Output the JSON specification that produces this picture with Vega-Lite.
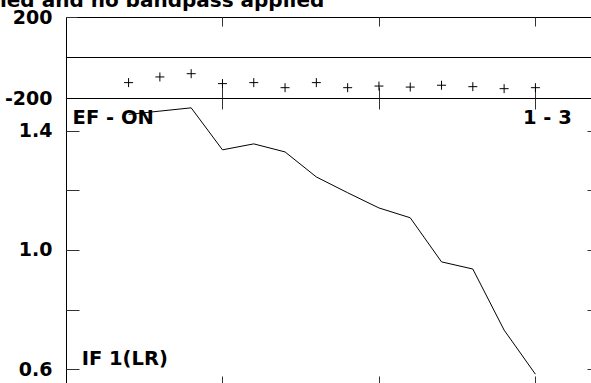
{
  "$schema": "https://vega.github.io/schema/vega-lite/v6.json",
  "background": "white",
  "padding": {"left": -1, "top": -10, "right": 0, "bottom": 0},
  "title": {"text": "ied and no bandpass applied", "anchor": "start", "frame": "bounds", "font": "DejaVu Sans", "fontSize": 20, "fontWeight": "bold", "color": "black", "offset": -3, "dx": -4},
  "datasets": {
    "phase": [
      {"x": 2, "phase": -124}, {"x": 3, "phase": -96}, {"x": 4, "phase": -80}, {"x": 5, "phase": -129},
      {"x": 6, "phase": -124}, {"x": 7, "phase": -149}, {"x": 8, "phase": -124}, {"x": 9, "phase": -149},
      {"x": 10, "phase": -141}, {"x": 11, "phase": -146}, {"x": 12, "phase": -137}, {"x": 13, "phase": -144},
      {"x": 14, "phase": -154}, {"x": 15, "phase": -149}
    ],
    "amp": [
      {"x": 2, "amp": 1.455}, {"x": 3, "amp": 1.466}, {"x": 4, "amp": 1.477}, {"x": 5, "amp": 1.336},
      {"x": 6, "amp": 1.356}, {"x": 7, "amp": 1.329}, {"x": 8, "amp": 1.245}, {"x": 9, "amp": 1.192},
      {"x": 10, "amp": 1.141}, {"x": 11, "amp": 1.108}, {"x": 12, "amp": 0.96}, {"x": 13, "amp": 0.936},
      {"x": 14, "amp": 0.731}, {"x": 15, "amp": 0.583}
    ],
    "labels": [
      {"x": 0.21, "y": 1.423, "text": "EF - ON"},
      {"x": 14.6, "y": 1.423, "text": "1 - 3"},
      {"x": 0.5, "y": 0.615, "text": "IF 1(LR)"}
    ]
  },
  "vconcat": [
    {
      "width": 532,
      "height": 81,
      "resolve": {"axis": {"x": "independent"}},
      "layer": [
        {
          "data": {"name": "phase"},
          "mark": {"type": "point", "shape": "M-1,0L1,0M0,-1L0,1", "filled": false, "stroke": "black", "strokeWidth": 1, "size": 81, "opacity": 1},
          "encoding": {
            "x": {"field": "x", "type": "quantitative", "scale": {"domain": [0, 17], "nice": false, "zero": false},
                  "axis": {"orient": "top", "title": null, "labels": false, "values": [5, 10, 15], "tickSize": -9, "domain": false, "grid": false}},
            "y": {"field": "phase", "type": "quantitative", "scale": {"domain": [-200, 200], "nice": false},
                  "axis": {"orient": "left", "title": null, "values": [-200, 200], "tickSize": -11, "domain": false, "grid": false, "labelPadding": 25,
                           "labelExpr": "datum.value < 0 ? '-' + abs(datum.value) : '' + datum.value"}}
          }
        },
        {
          "data": {"values": [{}]},
          "mark": {"type": "rule", "color": "black", "strokeWidth": 1},
          "encoding": {
            "x": {"datum": 0, "type": "quantitative", "axis": {"orient": "bottom", "title": null, "labels": false, "values": [5, 10, 15], "tickSize": -11, "domain": false, "grid": false}},
            "x2": {"datum": 17},
            "y": {"datum": 0, "type": "quantitative"}
          }
        }
      ]
    },
    {
      "width": 532,
      "height": 289,
      "resolve": {"axis": {"x": "independent", "y": "independent"}},
      "layer": [
        {
          "data": {"name": "amp"},
          "mark": {"type": "line", "color": "black", "strokeWidth": 1},
          "encoding": {
            "x": {"field": "x", "type": "quantitative", "scale": {"domain": [0, 17], "nice": false, "zero": false},
                  "axis": {"orient": "bottom", "title": null, "labels": false, "values": [5, 10, 15], "tickSize": -11, "domain": false, "grid": false}},
            "y": {"field": "amp", "type": "quantitative", "scale": {"domain": [0.54, 1.51], "nice": false, "zero": false},
                  "axis": {"orient": "left", "title": null, "values": [0.6, 0.8, 1.0, 1.2, 1.4], "format": ".1f",
                           "labelExpr": "indexof(['0.6','1.0','1.4'], datum.label) >= 0 ? datum.label : ''",
                           "tickSize": -13, "domain": false, "grid": false, "labelPadding": 27}}
          }
        },
        {
          "data": {"name": "labels"},
          "mark": {"type": "text", "align": "left", "baseline": "alphabetic", "font": "DejaVu Sans", "fontSize": 19.5, "fontWeight": "bold", "color": "black"},
          "encoding": {
            "x": {"field": "x", "type": "quantitative", "axis": {"orient": "top", "title": null, "labels": false, "values": [5, 10, 15], "tickSize": -11, "domain": false, "grid": false}},
            "y": {"field": "y", "type": "quantitative", "axis": {"orient": "right", "title": null, "labels": false, "values": [0.6, 0.8, 1.0, 1.2, 1.4], "tickSize": -11, "domain": false, "grid": false}},
            "text": {"field": "text"}
          }
        }
      ]
    }
  ],
  "spacing": 0,
  "bounds": "flush",
  "config": {
    "view": {"stroke": "black", "strokeWidth": 1},
    "axis": {"labelFont": "DejaVu Sans", "labelFontSize": 19, "labelFontWeight": "bold", "labelColor": "black", "tickColor": "#333", "tickWidth": 1}
  }
}
